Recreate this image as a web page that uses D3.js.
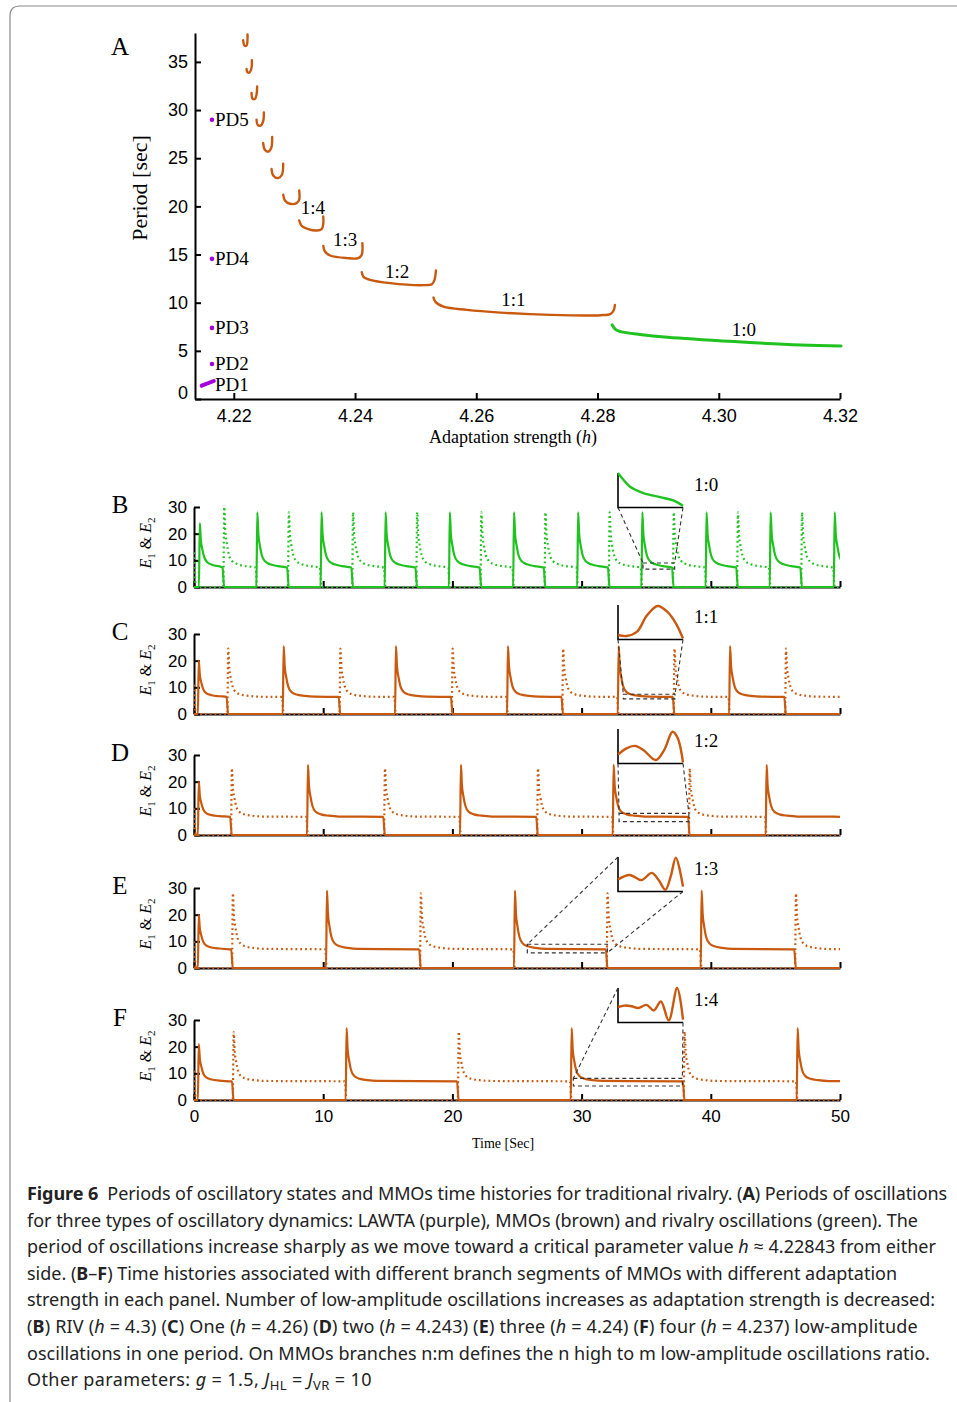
<!DOCTYPE html>
<html>
<head>
<meta charset="utf-8">
<script src="https://cdn.jsdelivr.net/npm/d3@7"></script>
<style>
  body { margin: 0; background: #fff; }
  text { white-space: pre; }
</style>
</head>
<body>
<svg id="fig" width="957" height="1402"></svg>
<script>
// ---------- panel A data (h, period) ----------
var hTicks = [4.22, 4.24, 4.26, 4.28, 4.30, 4.32];
var periodTicks = [0, 5, 10, 15, 20, 25, 30, 35];

var pdNames = ["PD2", "PD3", "PD4", "PD5"];
var pdH = [4.2164, 4.2164, 4.2164, 4.2164];
var pdPeriod = [3.64, 7.38, 14.55, 29.0];
var pd1Line = [[4.2147, 1.38], [4.2167, 1.87]];

var branch1to0 = [[4.28243, 7.69], [4.2830, 7.2], [4.2838, 7.0], [4.2870, 6.7], [4.29152, 6.41], [4.30253, 5.96], [4.31355, 5.61], [4.32017, 5.51]];
var branch1to1 = [[4.25294, 10.53], [4.25322, 10.11], [4.2546, 9.59], [4.25846, 9.25], [4.26397, 8.97], [4.27223, 8.73], [4.2805, 8.70], [4.28215, 8.84], [4.2827, 9.25], [4.28286, 9.77]];
var branch1to2 = [[4.24111, 13.17], [4.24137, 12.71], [4.24248, 12.37], [4.24579, 12.03], [4.25129, 11.82], [4.25268, 11.92], [4.25311, 12.37], [4.25334, 13.34]];
var branch1to3 = [[4.23476, 15.9], [4.23504, 15.31], [4.23587, 14.9], [4.23863, 14.63], [4.24055, 14.63], [4.24111, 14.97], [4.24121, 16.18]];
var branch1to4 = [[4.23079, 18.53], [4.23119, 17.98], [4.23228, 17.64], [4.23367, 17.49], [4.2345, 17.64], [4.23476, 18.19], [4.23476, 18.95]];
var branch1to5 = [[4.22815, 21.21], [4.22843, 20.61], [4.22926, 20.27], [4.23036, 20.34], [4.23079, 20.69], [4.23079, 21.65]];
var branch1to6 = [[4.22623, 23.88], [4.2265, 23.21], [4.22732, 22.94], [4.22793, 23.28], [4.22815, 24.43]];
var branch1to7 = [[4.22484, 26.58], [4.22512, 25.88], [4.22567, 25.68], [4.22617, 26.06], [4.22633, 27.2]];
var branch1to8 = [[4.22375, 29.0], [4.22392, 28.48], [4.22441, 28.38], [4.22484, 28.83], [4.22496, 29.76]];
var branch1to9 = [[4.22293, 31.78], [4.22309, 31.19], [4.22347, 31.15], [4.22375, 31.6], [4.22385, 32.46]];
var branch1to10 = [[4.2221, 34.27], [4.22226, 33.92], [4.22264, 33.92], [4.22293, 34.38], [4.22298, 35.17]];
var branch1to11 = [[4.22154, 37.25], [4.22177, 36.69], [4.2221, 36.69], [4.22226, 37.32], [4.22226, 37.84]];
var mmoBranches = [branch1to1, branch1to2, branch1to3, branch1to4, branch1to5, branch1to6,
                   branch1to7, branch1to8, branch1to9, branch1to10, branch1to11];

var ratioNames = ["1:4", "1:3", "1:2", "1:1", "1:0"];
var ratioH = [4.23306, 4.23835, 4.24694, 4.26612, 4.30413];
var ratioP = [19.85, 16.53, 13.2, 10.29, 7.17];

// ---------- panels B-F data (time in s, E values) ----------
var timeTicks = [0, 10, 20, 30, 40, 50];
var eTicks = [0, 10, 20, 30];

var bE1On = [0.38, 4.83, 9.8, 14.76, 19.73, 24.7, 29.66, 34.63, 39.6, 44.56, 49.52];
var bE1Peak = [24, 28, 28, 28, 28, 28, 28, 28, 28, 28, 28];
var bE2On = [2.27, 7.27, 12.24, 17.2, 22.17, 27.13, 32.1, 37.06, 42.03, 46.99];
var bE2Peak = [30, 28, 28, 28, 28, 28, 28, 28, 28, 28];

var cE1On = [0.3, 6.87, 15.56, 24.23, 32.8, 41.42];
var cE1Peak = [20, 25.5, 25.5, 25.5, 25.5, 25.5];
var cE2On = [2.58, 11.26, 19.95, 28.5, 37.12, 45.75];
var cE2Peak = [24.5, 24.5, 24.5, 24.5, 24.5, 24.5];

var dE1On = [0.3, 8.75, 20.59, 32.41, 44.25];
var dE1Peak = [20, 26.3, 26.3, 26.3, 26.3];
var dE2On = [2.86, 14.71, 26.55, 38.3];
var dE2Peak = [25, 25, 25, 25];

var eE1On = [0.3, 10.22, 24.77, 39.22];
var eE1Peak = [20, 29, 29, 29];
var eE2On = [2.94, 17.49, 31.94, 46.52];
var eE2Peak = [28, 28, 28, 28];

var fE1On = [0.3, 11.74, 29.16, 46.65];
var fE1Peak = [21, 27, 27, 27];
var fE2On = [3.0, 20.42, 37.9];
var fE2Peak = [25.6, 25.6, 25.6];

// plateau level [start, end] and E2 starting value
var plateaus = [[8.0, 7.3], [6.6, 6.4], [7.0, 6.8], [7.3, 7.0], [7.2, 7.0]];
var e2Start = [13, 11, 10, 10, 11];

// spike shape: time after onset and share of the spike above the plateau
var spikeT = [0.07, 0.15, 0.27, 0.42, 0.67, 1.07, 1.67, 2.47];
var spikeK = [1, 0.6, 0.38, 0.2, 0.09, 0.04, 0.015, 0];

// zoomed insets, curve in box units
var insetB = [[0, 1], [0.08, 0.81], [0.18, 0.61], [0.39, 0.42], [0.65, 0.30], [0.86, 0.2], [1, 0.05]];
var insetC = [[0, 0.13], [0.13, 0.1], [0.29, 0.22], [0.45, 0.71], [0.61, 0.97], [0.76, 0.8], [0.89, 0.47], [1, 0.03]];
var insetD = [[0, 0.26], [0.13, 0.44], [0.26, 0.51], [0.39, 0.39], [0.58, 0.1], [0.71, 0.39], [0.84, 0.92], [0.92, 0.73], [1, 0.03]];
var insetE = [[0, 0.35], [0.18, 0.48], [0.36, 0.33], [0.52, 0.54], [0.625, 0.33], [0.73, 0.05], [0.81, 0.43], [0.89, 0.98], [1, 0.14]];
var insetF = [[0, 0.45], [0.1, 0.49], [0.21, 0.47], [0.31, 0.42], [0.44, 0.51], [0.55, 0.35], [0.66, 0.61], [0.78, 0.06], [0.91, 1], [1, 0.08]];
// zoom windows [t0, t1, e0, e1]
var zoomB = [34.75, 37.2, 6.7, 9.0];
var zoomC = [33.23, 37.23, 5.7, 7.4];
var zoomD = [32.9, 38.3, 5.0, 8.1];
var zoomE = [25.8, 31.99, 5.7, 8.9];
var zoomF = [29.36, 37.8, 5.25, 8.1];

var BROWN = "#c8590f", GREEN = "#1fc21f", PURPLE = "#a300dc";
var SERIF = "'Liberation Serif','DejaVu Serif',serif";
var SANS = "'Liberation Sans',Arial,sans-serif";

var svg = d3.select("#fig");

// frame
svg.append("path")
    .attr("d", "M10,1402 V16 Q10,6 20,6 H957")
    .attr("fill", "none").attr("stroke", "#8a8a8a").attr("stroke-width", 1.2);

function styleAxis(g, size) {
    g.selectAll("path, line").attr("stroke", "#000").attr("stroke-width", 2);
    g.selectAll("text").attr("font-family", SANS).attr("font-size", size).attr("fill", "#000");
}

// ================= panel A =================
var xA = d3.scaleLinear().domain([4.2136, 4.32]).range([195, 840]);
var yA = d3.scaleLinear().domain([0, 38]).range([399, 33]);

var axA = svg.append("g").attr("transform", "translate(0,399)")
    .call(d3.axisBottom(xA).tickValues(hTicks).tickFormat(d3.format(".2f"))
        .tickSizeInner(-6).tickSizeOuter(0).tickPadding(10));
styleAxis(axA, 18);
var ayA = svg.append("g").attr("transform", "translate(195,0)")
    .call(d3.axisLeft(yA).tickValues(periodTicks).tickSizeInner(-6).tickSizeOuter(0).tickPadding(7));
styleAxis(ayA, 18);
ayA.selectAll(".tick").filter(d => d === 0).select("text").attr("y", -6);

var lineA = d3.line().x(d => xA(d[0])).y(d => yA(d[1])).curve(d3.curveCatmullRom.alpha(0.5));

svg.append("g").selectAll("path").data(mmoBranches).enter().append("path")
    .attr("d", lineA).attr("fill", "none").attr("stroke", BROWN)
    .attr("stroke-width", 2.4).attr("stroke-linecap", "round");
svg.append("path").datum(branch1to0).attr("d", lineA).attr("fill", "none")
    .attr("stroke", GREEN).attr("stroke-width", 3).attr("stroke-linecap", "round");

svg.append("path").datum(pd1Line).attr("d", d3.line().x(d => xA(d[0])).y(d => yA(d[1])))
    .attr("stroke", PURPLE).attr("stroke-width", 4).attr("stroke-linecap", "round");
svg.append("g").selectAll("circle").data(pdH).enter().append("circle")
    .attr("cx", d => xA(d)).attr("cy", (d, i) => yA(pdPeriod[i])).attr("r", 2.3).attr("fill", PURPLE);

var pdLabelG = svg.append("g").attr("font-family", SERIF).attr("font-size", 19);
pdNames.concat(["PD1"]).forEach(function (name, i) {
    var p = i < 4 ? pdPeriod[i] : 1.6;
    pdLabelG.append("text").attr("x", 215).attr("y", i < 4 ? yA(p) : 385).attr("dy", "0.34em").text(name);
});

svg.append("g").attr("font-family", SERIF).attr("font-size", 19).attr("text-anchor", "middle")
    .selectAll("text").data(ratioNames).enter().append("text")
    .attr("x", (d, i) => xA(ratioH[i])).attr("y", (d, i) => yA(ratioP[i])).attr("dy", "0.34em").text(d => d);

svg.append("text").attr("x", 120).attr("y", 47).attr("dy", "0.33em").attr("text-anchor", "middle")
    .attr("font-family", SERIF).attr("font-size", 25).text("A");
svg.append("text").attr("transform", "translate(140,188) rotate(-90)").attr("text-anchor", "middle")
    .attr("dy", "0.33em").attr("font-family", SERIF).attr("font-size", 22).text("Period [sec]");
var xl = svg.append("text").attr("x", 513).attr("y", 437).attr("dy", "0.33em").attr("text-anchor", "middle")
    .attr("font-family", SERIF).attr("font-size", 18);
xl.append("tspan").text("Adaptation strength (");
xl.append("tspan").attr("font-style", "italic").text("h");
xl.append("tspan").text(")");

// ================= panels B-F =================
var xT = d3.scaleLinear().domain([0, 50]).range([194, 840]);

function unitSeries(onsets, peaks, others, plateau, start) {
    var pts = [[0, start || 0]];
    if (start) pts.push([0.15, 0]);
    onsets.forEach(function (t0, i) {
        var later = others.filter(o => o > t0);
        var end = later.length ? later[0] : 51;
        var dur = end - t0;
        var plat = t => plateau[0] + (plateau[1] - plateau[0]) * Math.min(1, t / dur);
        pts.push([t0, 0]);
        spikeT.forEach(function (dt, j) {
            if (dt < dur - 0.12) {
                var p = plat(dt);
                pts.push([t0 + dt, p + spikeK[j] * (peaks[i] - p)]);
            }
        });
        pts.push([end - 0.06, plateau[1]]);
        pts.push([end + 0.06, 0]);
    });
    if (pts[pts.length - 1][0] < 50) pts.push([51, 0]);
    return pts;
}

var panels = [
    {letter: "B", y0: 587, inTop: 473, color: GREEN, e1: bE1On, p1: bE1Peak, e2: bE2On, p2: bE2Peak, k: 0, inset: insetB, zoom: zoomB, ratio: "1:0", conn: [["bl", "tl"], ["br", "tr"]]},
    {letter: "C", y0: 714, inTop: 605, color: BROWN, e1: cE1On, p1: cE1Peak, e2: cE2On, p2: cE2Peak, k: 1, inset: insetC, zoom: zoomC, ratio: "1:1", conn: [["bl", "tl"], ["br", "tr"]]},
    {letter: "D", y0: 835, inTop: 729, color: BROWN, e1: dE1On, p1: dE1Peak, e2: dE2On, p2: dE2Peak, k: 2, inset: insetD, zoom: zoomD, ratio: "1:2", conn: [["bl", "tl"], ["br", "tr"]]},
    {letter: "E", y0: 968, inTop: 857, color: BROWN, e1: eE1On, p1: eE1Peak, e2: eE2On, p2: eE2Peak, k: 3, inset: insetE, zoom: zoomE, ratio: "1:3", conn: [["tl", "tl"], ["br", "br"]]},
    {letter: "F", y0: 1100, inTop: 988, color: BROWN, e1: fE1On, p1: fE1Peak, e2: fE2On, p2: fE2Peak, k: 4, inset: insetF, zoom: zoomF, ratio: "1:4", conn: [["tl", "tl"], ["br", "tr"]]}
];

panels.forEach(function (p) {
    var g = svg.append("g");
    var y = d3.scaleLinear().domain([0, 30]).range([p.y0, p.y0 - 80]);
    var last = p.letter === "F";

    var ax = g.append("g").attr("transform", "translate(0," + p.y0 + ")")
        .call(d3.axisBottom(xT).tickValues(timeTicks).tickFormat(last ? d3.format("d") : "")
            .tickSizeInner(-6).tickSizeOuter(0).tickPadding(10));
    styleAxis(ax, 17);
    var ay = g.append("g").attr("transform", "translate(194,0)")
        .call(d3.axisLeft(y).tickValues(eTicks).tickSizeInner(-6).tickSizeOuter(0).tickPadding(7));
    styleAxis(ay, 17);

    var clipId = "clip" + p.letter;
    svg.append("clipPath").attr("id", clipId).append("rect")
        .attr("x", 194).attr("y", p.y0 - 100).attr("width", 646).attr("height", 106);

    var line = d3.line().x(d => xT(d[0])).y(d => y(d[1])).curve(d3.curveMonotoneX);
    g.append("path").datum(unitSeries(p.e2, p.p2, p.e1, plateaus[p.k], e2Start[p.k]))
        .attr("d", line).attr("fill", "none").attr("stroke", p.color).attr("stroke-width", 2.2)
        .attr("stroke-dasharray", "1.8 3").attr("clip-path", "url(#" + clipId + ")");
    g.append("path").datum(unitSeries(p.e1, p.p1, p.e2, plateaus[p.k], 0))
        .attr("d", line).attr("fill", "none").attr("stroke", p.color).attr("stroke-width", 2.2)
        .attr("clip-path", "url(#" + clipId + ")");

    // inset
    var ix = d3.scaleLinear().domain([0, 1]).range([618, 683]);
    var iy = d3.scaleLinear().domain([0, 1]).range([p.inTop + 34.5, p.inTop]);
    g.append("path").attr("d", "M" + ix(0) + "," + iy(1) + "V" + iy(0) + "H" + ix(1))
        .attr("fill", "none").attr("stroke", "#000").attr("stroke-width", 1.6);
    g.append("path").datum(p.inset)
        .attr("d", d3.line().x(d => ix(d[0])).y(d => iy(d[1])).curve(d3.curveCatmullRom.alpha(0.5)))
        .attr("fill", "none").attr("stroke", p.color).attr("stroke-width", 2.4);

    var z = p.zoom;
    var rx0 = xT(z[0]), rx1 = xT(z[1]), ry0 = y(z[3]), ry1 = y(z[2]);
    g.append("rect").attr("x", rx0).attr("y", ry0).attr("width", rx1 - rx0).attr("height", ry1 - ry0)
        .attr("fill", "none").attr("stroke", "#333").attr("stroke-width", 1.2).attr("stroke-dasharray", "4 3");
    var insetCorner = {tl: [ix(0), iy(1)], bl: [ix(0), iy(0)], br: [ix(1), iy(0)], tr: [ix(1), iy(1)]};
    var rectCorner = {tl: [rx0, ry0], bl: [rx0, ry1], br: [rx1, ry1], tr: [rx1, ry0]};
    p.conn.forEach(function (c) {
        var a = insetCorner[c[0]], b = rectCorner[c[1]];
        g.append("line").attr("x1", a[0]).attr("y1", a[1]).attr("x2", b[0]).attr("y2", b[1])
            .attr("stroke", "#333").attr("stroke-width", 1.1).attr("stroke-dasharray", "4 3");
    });
    g.append("text").attr("x", 694).attr("y", p.inTop + 12).attr("dy", "0.34em")
        .attr("font-family", SERIF).attr("font-size", 19).text(p.ratio);

    // labels
    g.append("text").attr("x", 120).attr("y", p.y0 - 82).attr("dy", "0.33em").attr("text-anchor", "middle")
        .attr("font-family", SERIF).attr("font-size", 25).text(p.letter);
    var yl = g.append("text").attr("transform", "translate(146," + (p.y0 - 44) + ") rotate(-90)")
        .attr("text-anchor", "middle").attr("dy", "0.33em").attr("font-family", SERIF).attr("font-size", 16);
    yl.append("tspan").attr("font-style", "italic").text("E");
    yl.append("tspan").attr("font-size", 11).attr("dy", 4).text("1");
    yl.append("tspan").attr("dy", -4).text(" & ");
    yl.append("tspan").attr("font-style", "italic").text("E");
    yl.append("tspan").attr("font-size", 11).attr("dy", 4).text("2");
});

svg.append("text").attr("x", 503).attr("y", 1143).attr("dy", "0.33em").attr("text-anchor", "middle")
    .attr("font-family", SERIF).attr("font-size", 14).text("Time [Sec]");

// ================= caption =================
var captionLines = [
    [["Figure 6", "b"], ["  Periods of oscillatory states and MMOs time histories for traditional rivalry. ("], ["A", "b"], [") Periods of oscillations"]],
    [["for three types of oscillatory dynamics: LAWTA (purple), MMOs (brown) and rivalry oscillations (green). The"]],
    [["period of oscillations increase sharply as we move toward a critical parameter value "], ["h", "i"], [" ≈ 4.22843 from either"]],
    [["side. ("], ["B", "b"], ["–"], ["F", "b"], [") Time histories associated with different branch segments of MMOs with different adaptation"]],
    [["strength in each panel. Number of low-amplitude oscillations increases as adaptation strength is decreased:"]],
    [["("], ["B", "b"], [") RIV ("], ["h", "i"], [" = 4.3) ("], ["C", "b"], [") One ("], ["h", "i"], [" = 4.26) ("], ["D", "b"], [") two ("], ["h", "i"], [" = 4.243) ("], ["E", "b"], [") three ("], ["h", "i"], [" = 4.24) ("], ["F", "b"], [") four ("], ["h", "i"], [" = 4.237) low-amplitude"]],
    [["oscillations in one period. On MMOs branches n:m defines the n high to m low-amplitude oscillations ratio."]],
    [["Other parameters: "], ["g", "i"], [" = 1.5, "], ["J", "i"], ["HL", "sub"], [" = "], ["J", "i"], ["VR", "sub"], [" = 10"]]
];
var captionEnds = [947, 918, 936, 897, 935, 918, 930, 372];

captionLines.forEach(function (segs, i) {
    var t = svg.append("text").attr("x", 27).attr("y", 1200 + i * 26.6)
        .attr("font-family", "'Noto Sans','Open Sans',sans-serif").attr("font-size", 18).attr("fill", "#222");
    var shifted = false;
    segs.forEach(function (s) {
        var ts = t.append("tspan").text(s[0]);
        if (s[1] === "b") ts.attr("font-weight", "bold");
        if (s[1] === "i") ts.attr("font-style", "italic");
        if (s[1] === "sub") { ts.attr("font-size", 13).attr("dy", 4); shifted = true; }
        else if (shifted) { ts.attr("dy", -4); shifted = false; }
    });
    // fit the line to the width seen in the reference with a small letter spacing change
    var natural = t.node().getComputedTextLength();
    var chars = segs.map(s => s[0]).join("").length;
    t.attr("letter-spacing", ((captionEnds[i] - 27 - natural) / chars).toFixed(3));
});
</script>
</body>
</html>
